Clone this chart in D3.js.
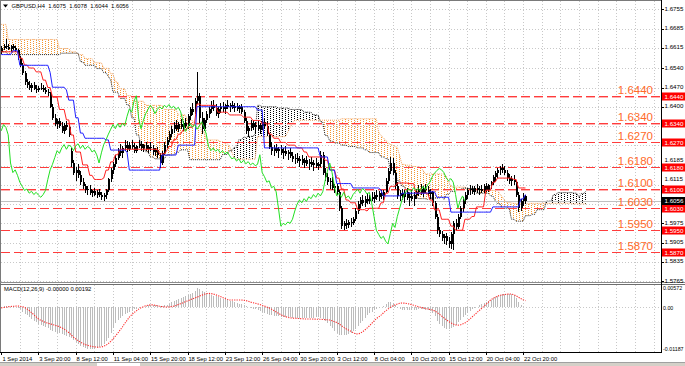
<!DOCTYPE html>
<html lang="en">
<head>
<meta charset="UTF-8">
<title>GBPUSD,H4</title>
<style>
  body { margin: 0; background: #fff; }
  svg { display: block; font-family: "Liberation Sans", Arial, sans-serif; }
</style>
</head>
<body>
<script src="https://d3js.org/d3.v7.min.js"></script>
<script>
// all prices are pips above 1.5000 (1620 -> 1.6620), one row per H4 bar: open, high, low, close
var candles = [
  [1600,1620,1592,1615],[1615,1628,1605,1622],[1622,1645,1612,1618],[1618,1630,1605,1612],[1612,1625,1600,1620],[1620,1628,1608,1614],
  [1614,1622,1598,1605],[1605,1610,1570,1578],[1578,1585,1545,1552],[1552,1560,1515,1522],[1522,1530,1480,1490],[1490,1500,1470,1478],
  [1478,1492,1460,1470],[1470,1485,1455,1480],[1480,1490,1462,1466],[1466,1478,1450,1460],[1460,1475,1452,1470],[1470,1488,1462,1468],
  [1468,1480,1455,1462],[1462,1472,1448,1455],[1455,1465,1440,1450],[1450,1455,1395,1400],[1400,1410,1350,1360],[1360,1372,1330,1338],
  [1338,1355,1320,1348],[1348,1360,1322,1330],[1330,1345,1305,1312],[1312,1340,1302,1335],[1335,1348,1315,1325],[1325,1335,1290,1298],
  [1240,1248,1180,1195],[1195,1205,1150,1160],[1160,1180,1130,1170],[1170,1190,1140,1150],[1150,1165,1115,1125],[1125,1140,1100,1110],
  [1110,1120,1085,1095],[1095,1112,1080,1100],[1100,1115,1078,1085],[1085,1098,1070,1092],[1092,1105,1075,1080],[1080,1095,1068,1088],
  [1088,1100,1072,1078],[1078,1090,1060,1070],[1070,1085,1058,1080],[1080,1100,1062,1095],[1095,1140,1090,1135],[1135,1175,1125,1170],
  [1170,1200,1155,1190],[1190,1225,1180,1215],[1215,1250,1205,1240],[1240,1265,1220,1230],[1230,1258,1215,1250],[1250,1278,1240,1262],
  [1262,1275,1235,1245],[1245,1270,1238,1260],[1260,1280,1245,1255],[1255,1268,1230,1240],[1240,1262,1232,1258],[1258,1278,1248,1265],
  [1265,1275,1240,1248],[1248,1265,1235,1260],[1260,1270,1238,1245],[1245,1262,1232,1255],[1255,1272,1240,1250],[1250,1262,1225,1235],
  [1235,1250,1220,1242],[1242,1255,1215,1225],[1225,1232,1178,1195],[1195,1240,1188,1232],[1232,1270,1225,1262],[1262,1290,1250,1280],
  [1280,1310,1270,1300],[1300,1330,1290,1318],[1318,1345,1305,1335],[1335,1352,1310,1320],[1320,1345,1308,1338],[1338,1355,1318,1325],
  [1325,1348,1312,1340],[1340,1360,1322,1330],[1330,1372,1320,1365],[1365,1400,1350,1392],[1392,1415,1370,1380],[1380,1430,1372,1420],
  [1420,1525,1410,1440],[1440,1450,1340,1358],[1358,1380,1300,1320],[1320,1360,1310,1350],[1350,1385,1340,1375],[1375,1400,1360,1390],
  [1390,1420,1378,1405],[1405,1425,1385,1395],[1395,1410,1365,1375],[1375,1398,1360,1390],[1390,1412,1378,1400],[1400,1418,1382,1392],
  [1392,1410,1375,1405],[1405,1425,1390,1398],[1398,1415,1382,1408],[1408,1420,1390,1395],[1395,1412,1380,1402],[1402,1415,1385,1390],
  [1390,1408,1378,1398],[1398,1410,1375,1382],[1382,1388,1340,1348],[1348,1360,1300,1310],[1310,1330,1290,1322],[1322,1350,1310,1340],
  [1340,1352,1315,1325],[1325,1345,1300,1335],[1335,1350,1310,1318],[1318,1340,1300,1330],[1330,1355,1315,1345],[1345,1360,1320,1328],
  [1328,1345,1295,1300],[1300,1305,1245,1255],[1255,1270,1225,1240],[1240,1262,1220,1250],[1250,1265,1230,1238],[1238,1255,1215,1245],
  [1245,1262,1225,1232],[1232,1250,1210,1240],[1240,1258,1222,1228],[1228,1242,1205,1235],[1235,1250,1215,1222],[1222,1235,1198,1210],
  [1210,1228,1190,1215],[1215,1232,1195,1202],[1202,1220,1180,1210],[1210,1225,1188,1195],[1195,1215,1175,1205],[1205,1220,1185,1192],
  [1192,1210,1170,1200],[1200,1218,1180,1188],[1188,1205,1165,1195],[1195,1215,1178,1185],[1185,1200,1168,1190],[1190,1240,1180,1225],
  [1225,1235,1150,1160],[1160,1175,1130,1145],[1145,1160,1115,1125],[1125,1140,1100,1130],[1130,1145,1095,1105],[1105,1120,1085,1110],
  [1110,1118,1080,1090],[1090,1095,1020,1030],[1030,1040,955,965],[965,985,950,975],[975,990,955,970],[970,988,958,980],
  [980,995,962,975],[975,1000,968,990],[990,1030,985,1020],[1020,1055,1010,1045],[1045,1070,1030,1060],[1060,1080,1040,1050],
  [1050,1075,1035,1065],[1065,1085,1045,1055],[1055,1080,1045,1072],[1072,1090,1058,1065],[1065,1088,1050,1080],[1080,1095,1060,1070],
  [1070,1092,1055,1085],[1085,1098,1062,1075],[1075,1095,1060,1090],[1090,1140,1085,1130],[1130,1175,1120,1165],[1165,1218,1155,1195],
  [1195,1215,1150,1160],[1160,1170,1100,1110],[1110,1125,1065,1075],[1075,1095,1055,1085],[1085,1100,1060,1070],[1070,1095,1050,1088],
  [1088,1105,1060,1068],[1068,1085,1040,1075],[1075,1095,1055,1062],[1062,1088,1038,1080],[1080,1100,1062,1090],[1090,1115,1075,1100],
  [1100,1120,1080,1085],[1085,1110,1070,1102],[1102,1120,1085,1095],[1095,1112,1075,1082],[1082,1100,1065,1088],[1088,1092,1040,1050],
  [1050,1058,990,1000],[1000,1010,935,950],[950,962,925,935],[935,948,910,920],[920,938,900,928],[928,940,895,910],
  [910,925,885,900],[900,945,880,938],[938,985,878,975],[975,990,950,960],[960,1010,955,1000],[1000,1040,990,1030],
  [1030,1070,1015,1060],[1060,1090,1045,1080],[1080,1105,1065,1095],[1095,1115,1080,1100],[1100,1112,1082,1090],[1090,1110,1078,1105],
  [1105,1118,1085,1095],[1095,1112,1080,1102],[1102,1115,1085,1092],[1092,1118,1085,1110],[1110,1122,1090,1098],[1098,1120,1088,1115],
  [1115,1130,1100,1125],[1125,1150,1115,1145],[1145,1165,1130,1158],[1158,1175,1140,1168],[1168,1185,1150,1175],[1175,1190,1158,1170],
  [1170,1185,1150,1160],[1160,1168,1130,1140],[1140,1155,1118,1130],[1130,1148,1110,1138],[1138,1150,1115,1125],[1125,1130,1070,1080],
  [1080,1090,1015,1030],[1030,1065,1020,1058],[1058,1085,1040,1075],[1075,1078,1044,1056]
];

// ichimoku lines as [bar, level] where the level changes (same pip units)
var tenkan = [[0,1600],[8,1577],[10,1552],[12,1541],[15,1527],[18,1497],[20,1470],[22,1435],[25,1390],[28,1352],[30,1297],
  [32,1235],[35,1188],[38,1150],[40,1135],[44,1140],[45,1169],[47,1199],[49,1225],[51,1245],[68,1228],[71,1240],[72,1255],
  [74,1280],[76,1300],[78,1315],[80,1325],[83,1340],[84,1410],[86,1405],[93,1380],[98,1370],[104,1362],[108,1350],[112,1340],
  [115,1300],[117,1285],[120,1270],[123,1260],[127,1250],[130,1235],[132,1217],[139,1205],[141,1170],[144,1140],[146,1100],
  [148,1060],[150,1050],[153,1025],[157,1020],[158,1030],[163,1050],[165,1085],[167,1110],[170,1122],[175,1120],[178,1085],
  [184,1060],[186,1024],[189,990],[193,965],[195,950],[199,990],[202,1000],[204,1035],[208,1096],[211,1125],[213,1140],
  [220,1135],[222,1104]];
var kijun = [[0,1590],[5,1604],[8,1551],[21,1525],[22,1471],[28,1461],[29,1424],[32,1360],[34,1304],[36,1285],[45,1279],
  [47,1242],[54,1235],[55,1169],[69,1224],[76,1260],[84,1400],[110,1388],[113,1250],[137,1217],[141,1169],[144,1120],
  [151,1104],[163,1096],[164,1075],[172,1085],[184,1090],[187,1070],[193,1016],[211,1035],[223,1064],[225,1080]];
var spanA = [[0,1600],[3,1590],[26,1595],[34,1564],[36,1551],[41,1539],[44,1524],[46,1510],[47,1497],[48,1453],[51,1430],
  [54,1406],[56,1360],[58,1297],[60,1257],[62,1236],[64,1217],[66,1210],[71,1224],[75,1233],[77,1243],[81,1207],[95,1226],
  [98,1240],[100,1252],[102,1280],[104,1288],[106,1292],[109,1300],[110,1405],[112,1400],[119,1395],[124,1390],[130,1380],
  [134,1370],[137,1345],[139,1295],[141,1275],[143,1268],[146,1260],[149,1255],[153,1250],[156,1243],[158,1233],[163,1217],
  [165,1211],[167,1170],[170,1130],[172,1110],[174,1090],[176,1077],[179,1065],[183,1062],[184,1067],[189,1073],[190,1062],
  [191,1080],[193,1092],[196,1098],[198,1103],[201,1102],[204,1085],[210,1075],[212,1057],[213,1047],[215,1030],[219,990],
  [221,983],[225,1003],[228,1008],[230,1025],[234,1056],[237,1080],[239,1087],[246,1085],[248,1070],[249,1084],[251,1092]];
var spanB = [[0,1700],[3,1645],[25,1612],[30,1600],[33,1590],[36,1575],[40,1560],[44,1540],[47,1520],[49,1490],[51,1465],
  [54,1440],[57,1420],[62,1405],[70,1390],[76,1370],[80,1350],[83,1340],[86,1309],[88,1279],[94,1273],[96,1265],[98,1256],
  [99,1234],[100,1215],[101,1209],[110,1291],[123,1307],[124,1325],[125,1340],[126,1351],[146,1356],[162,1307],[163,1295],
  [164,1287],[165,1277],[166,1270],[167,1262],[168,1260],[169,1255],[170,1252],[171,1222],[172,1190],[174,1187],[177,1182],
  [179,1180],[181,1169],[182,1155],[191,1147],[192,1127],[193,1110],[194,1107],[200,1096],[201,1100],[205,1095],[214,1082],
  [215,1072],[216,1059],[217,1051],[219,1049],[220,1048],[245,1046]];
var cloudEnd = 251;

// MACD(12,26,9), units of 0.00001
var macdMain = [
  20,30,35,40,35,25,10,-10,
  -60,-120,-180,-230,-280,-330,-380,-430,-480,
  -510,-540,-570,-600,-640,-680,-700,-720,-740,
  -760,-790,-810,-840,-880,-930,
  -985,-1040,-1090,-1130,
  -1160,-1180,-1190,-1185,-1180,-1170,
  -1140,-1110,-1040,-960,
  -860,-720,-580,-450,
  -370,-300,-240,-190,-150,
  -120,-90,-60,-40,-20,
  0,20,40,60,70,
  80,70,60,50,40,60,80,
  110,140,170,200,230,260,290,310,
  340,380,420,470,550,
  520,470,430,400,380,
  350,330,310,290,270,250,230,210,190,170,
  150,130,110,90,60,30,10,-10,-40,
  -60,-80,-100,-120,-150,-180,-210,
  -230,-240,-250,-260,-265,-270,-275,-280,-285,-290,-290,-295,-295,-300,-300,-300,-295,-290,-290,-280,-280,-290,-330,-380,-440,-520,
  -600,-680,-740,-780,-790,-790,-780,-760,-720,-680,-620,
  -540,-460,-380,-300,-230,-170,-120,-80,
  -50,-20,0,30,
  100,150,160,120,60,
  -10,-50,-70,-80,-80,-75,-70,-70,-65,-60,-60,-60,-70,-80,-100,-160,-260,-380,
  -470,-540,-590,-620,-630,-600,-550,-490,-420,-350,
  -280,-210,-150,-100,-60,-20,20,
  60,90,120,150,180,220,260,300,330,
  360,380,390,390,380,370,350,
  260,150,70,20,0
];
var macdSignal = [
  -15,-5,5,15,25,30,35,40,35,
  20,0,-40,-90,-150,-210,-270,-330,
  -370,-400,-430,-450,-470,-490,-510,-530,-550,
  -580,-620,-670,-720,-780,-850,
  -900,-950,-990,-1030,-1060,-1080,-1100,
  -1115,-1125,-1133,-1137,-1130,-1110,-1080,
  -1030,-970,-900,-820,-740,-650,
  -560,-460,-370,-280,-210,-150,
  -100,-50,-10,20,45,60,
  70,70,60,45,30,20,15,10,12,
  20,35,55,80,105,130,160,185,210,
  240,265,290,320,345,370,390,400,
  395,380,360,335,310,280,255,230,210,
  210,210,210,210,210,205,195,175,150,130,
  120,100,80,55,35,10,-15,
  -50,-90,-130,-170,-210,-240,-265,-285,-300,
  -305,-310,-315,-320,-325,-330,-330,-330,-330,-335,-335,-340,-340,-345,-350,-355,-360,
  -380,-410,-430,-470,-520,-570,-610,-645,-680,-720,-750,-760,
  -740,-700,-650,-590,-530,-460,-390,-320,-275,
  -220,-160,-100,-50,0,40,70,95,
  115,125,120,110,95,80,60,40,20,
  0,-15,-30,-45,-60,-75,-100,-140,-190,-245,-300,
  -350,-400,-440,-475,-500,-510,-500,-475,-445,
  -400,-340,-280,-220,-160,-100,-40,20,80,140,210,
  250,290,320,340,355,365,375,380,380,
  360,330,290,250,220,192
];

var levels = [1.6440, 1.6340, 1.6270, 1.6180, 1.6100, 1.6030, 1.5950, 1.5870];
var doubledLevels = [1.6440, 1.6340, 1.6100];
// price grid lines; false = hidden under a red level tag, "up" = squeezed just above a tag
var priceTicks = ["1.6755","1.6685","1.6615","1.6540","1.6470","1.6400","1.6330","1.6260","1.6185","1.6115","1.6045","1.5975","1.5905","1.5835","1.5765"];
var priceTickShown = [true,true,true,true,true,true,false,false,"up","up",false,true,true,true,true];
var lastPrice = 1.6056;
var macdTicks = ["0.00572", "0.00", "-0.01187"];
var timeLabels = ["1 Sep 2014","3 Sep 20:00","8 Sep 12:00","11 Sep 04:00","15 Sep 20:00","18 Sep 12:00","23 Sep 12:00",
  "26 Sep 04:00","30 Sep 20:00","3 Oct 12:00","8 Oct 04:00","10 Oct 20:00","15 Oct 12:00","20 Oct 04:00","22 Oct 20:00"];
var header = "GBPUSD,H4  1.6075  1.6078  1.6044  1.6056";
var macdHeader = "MACD(12,26,9) -0.00000 0.00192";

var width = 685, height = 366;
var axisX = 661;          // right edge of the plotting area
var barsPerLabel = 16, barsPerGrid = 8;

var svg = d3.select('body').append('svg').attr('width', width).attr('height', height);

var x = d3.scaleLinear().domain([0, 283]).range([1.2, 660.6]);
var y = d3.scaleLinear().domain([1.5765, 1.6755]).range([281, 9.3]);
var ym = d3.scaleLinear().domain([-0.01187, 0.00572]).range([349, 287.3]);
function pr(v) { return 1.5 + v / 10000; }
function stepAt(pts, i) {
  var v = pts[0][1];
  for (var k = 0; k < pts.length; k++) { if (pts[k][0] <= i) v = pts[k][1]; else break; }
  return v;
}

var defs = svg.append('defs');
defs.append('clipPath').attr('id', 'mainClip').append('rect')
  .attr('x', 1).attr('y', 1).attr('width', axisX - 1).attr('height', 281);
defs.append('clipPath').attr('id', 'macdClip').append('rect')
  .attr('x', 1).attr('y', 285).attr('width', axisX - 1).attr('height', 67);
// kumo hatching: staggered single-pixel dots
function dotPattern(id, color) {
  var p = defs.append('pattern').attr('id', id).attr('width', 6).attr('height', 2)
    .attr('patternUnits', 'userSpaceOnUse');
  p.append('rect').attr('x', 0).attr('y', 0).attr('width', 1).attr('height', 1).attr('fill', color);
  p.append('rect').attr('x', 3).attr('y', 1).attr('width', 1).attr('height', 1).attr('fill', color);
}
dotPattern('dotOrange', '#f5962e');
dotPattern('dotBlack', '#000');

// grid
var gridBars = d3.range(barsPerGrid, 284, barsPerGrid);
var grid = svg.append('g').attr('stroke', '#c8c8c8').attr('stroke-dasharray', '1,2').attr('shape-rendering', 'crispEdges');
grid.selectAll('.vg').data(gridBars).join('line')
  .attr('x1', function(d) { return Math.round(x(d)); }).attr('x2', function(d) { return Math.round(x(d)); })
  .attr('y1', 1).attr('y2', 282);
grid.selectAll('.vgm').data(gridBars).join('line')
  .attr('x1', function(d) { return Math.round(x(d)); }).attr('x2', function(d) { return Math.round(x(d)); })
  .attr('y1', 285).attr('y2', 352);
grid.selectAll('.hg').data(priceTicks).join('line')
  .attr('x1', 1).attr('x2', axisX)
  .attr('y1', function(d) { return Math.round(y(+d)); }).attr('y2', function(d) { return Math.round(y(+d)); });
grid.append('line').attr('x1', 1).attr('x2', axisX).attr('y1', Math.round(ym(0))).attr('y2', Math.round(ym(0)));

var main = svg.append('g').attr('clip-path', 'url(#mainClip)');

// kumo
var cloud = d3.range(0, cloudEnd + 1).map(function(i) {
  return { i: i, a: stepAt(spanA, i), b: stepAt(spanB, i) };
});
main.append('path').datum(cloud).attr('fill', 'url(#dotOrange)')
  .attr('d', d3.area().x(function(d) { return x(d.i); })
    .y0(function(d) { return y(pr(d.a)); })
    .y1(function(d) { return y(pr(Math.max(d.a, d.b))); }));
main.append('path').datum(cloud).attr('fill', 'url(#dotBlack)')
  .attr('d', d3.area().x(function(d) { return x(d.i); })
    .y0(function(d) { return y(pr(d.b)); })
    .y1(function(d) { return y(pr(Math.max(d.a, d.b))); }));
main.append('path').datum(cloud).attr('fill', 'none').attr('stroke', '#f4a460').attr('stroke-dasharray', '1,1')
  .attr('d', d3.line().x(function(d) { return x(d.i); }).y(function(d) { return y(pr(d.b)); }));
main.append('path').datum(cloud).attr('fill', 'none').attr('stroke', '#222').attr('stroke-dasharray', '1,1')
  .attr('d', d3.line().x(function(d) { return x(d.i); }).y(function(d) { return y(pr(d.a)); }));

// horizontal levels
main.selectAll('.lvl2').data(doubledLevels).join('line')
  .attr('x1', 1).attr('x2', axisX)
  .attr('y1', function(d) { return Math.round(y(d)) + 1.5; }).attr('y2', function(d) { return Math.round(y(d)) + 1.5; })
  .attr('stroke', '#ffb0b0').attr('stroke-dasharray', '9,4');
main.selectAll('.lvl').data(levels).join('line')
  .attr('x1', 1).attr('x2', axisX)
  .attr('y1', function(d) { return Math.round(y(d)) + 0.5; }).attr('y2', function(d) { return Math.round(y(d)) + 0.5; })
  .attr('stroke', '#ff3c3c').attr('stroke-dasharray', '9,4');
main.append('line').attr('x1', 1).attr('x2', axisX)
  .attr('y1', Math.round(y(lastPrice)) + 0.5).attr('y2', Math.round(y(lastPrice)) + 0.5)
  .attr('stroke', '#c0c0c0');

// candles
var cg = main.append('g').attr('shape-rendering', 'crispEdges');
cg.selectAll('.wick').data(candles).join('line')
  .attr('x1', function(d, i) { return Math.round(x(i)) + 0.5; })
  .attr('x2', function(d, i) { return Math.round(x(i)) + 0.5; })
  .attr('y1', function(d) { return y(pr(d[1])); })
  .attr('y2', function(d) { return y(pr(d[2])); })
  .attr('stroke', '#000');
cg.selectAll('.body').data(candles).join('rect')
  .attr('x', function(d, i) { return Math.round(x(i)); })
  .attr('width', 2)
  .attr('y', function(d) { return y(pr(Math.max(d[0], d[3]))); })
  .attr('height', function(d) { return Math.max(1, Math.abs(y(pr(d[0])) - y(pr(d[3])))); })
  .attr('fill', '#000');

// tenkan, kijun, chikou
var bars = d3.range(0, candles.length);
var priceLine = d3.line().x(function(d) { return x(d[0]); }).y(function(d) { return y(pr(d[1])); });
main.append('path').datum(bars.map(function(i) { return [i, stepAt(tenkan, i)]; }))
  .attr('fill', 'none').attr('stroke', '#ff2020').attr('d', priceLine);
main.append('path').datum(bars.map(function(i) { return [i, stepAt(kijun, i)]; }))
  .attr('fill', 'none').attr('stroke', '#2020ff').attr('d', priceLine);
main.append('path').datum(bars.filter(function(i) { return i >= 26; }).map(function(i) { return [i - 26, candles[i][3]]; }))
  .attr('fill', 'none').attr('stroke', '#22e022').attr('d', priceLine);

// level captions
main.selectAll('.cap').data(levels).join('text')
  .attr('x', 653).attr('y', function(d) { return Math.round(y(d)) - 2.5; })
  .attr('text-anchor', 'end').attr('font-size', 11.5).attr('fill', '#ff6a2a')
  .text(function(d) { return d.toFixed(4); });

// MACD
var mg = svg.append('g').attr('clip-path', 'url(#macdClip)');
mg.selectAll('.hist').data(macdMain).join('line')
  .attr('shape-rendering', 'crispEdges')
  .attr('x1', function(d, i) { return Math.round(x(i)) + 0.5; })
  .attr('x2', function(d, i) { return Math.round(x(i)) + 0.5; })
  .attr('y1', ym(0)).attr('y2', function(d) { return ym(d / 1e5); })
  .attr('stroke', '#bcbcbc');
mg.append('path').datum(macdSignal).attr('fill', 'none').attr('stroke', '#ff2a2a')
  .attr('stroke-width', 1.1).attr('stroke-dasharray', '1.2,1.2')
  .attr('d', d3.line().x(function(d, i) { return x(i); }).y(function(d) { return ym(d / 1e5); }));

// frame
var frame = svg.append('g').attr('shape-rendering', 'crispEdges').attr('fill', 'none');
frame.append('line').attr('x1', 0.5).attr('x2', 0.5).attr('y1', 0).attr('y2', 353).attr('stroke', '#7a7a7a');
frame.append('line').attr('x1', 0).attr('x2', axisX).attr('y1', 0.5).attr('y2', 0.5).attr('stroke', '#7a7a7a');
frame.append('line').attr('x1', 0).attr('x2', width).attr('y1', 282.5).attr('y2', 282.5).attr('stroke', '#8c8c8c');
frame.append('line').attr('x1', 0).attr('x2', width).attr('y1', 284.5).attr('y2', 284.5).attr('stroke', '#6e6e6e');
frame.append('line').attr('x1', 0).attr('x2', axisX + 1).attr('y1', 352.5).attr('y2', 352.5).attr('stroke', '#000');
frame.append('line').attr('x1', axisX + 0.5).attr('x2', axisX + 0.5).attr('y1', 0).attr('y2', 353).attr('stroke', '#000');
svg.append('rect').attr('x', 0).attr('y', 363).attr('width', width).attr('height', 3).attr('fill', '#d4d0c8');
svg.append('line').attr('x1', 0).attr('x2', width).attr('y1', 362.5).attr('y2', 362.5).attr('stroke', '#a0a0a0');
svg.append('rect').attr('x', 97).attr('y', 363).attr('width', 43).attr('height', 3).attr('fill', '#fff');

// price axis
var ax = svg.append('g').attr('font-size', 6.2).attr('fill', '#000');
ax.selectAll('.pt').data(priceTicks).join('line')
  .attr('x1', axisX).attr('x2', axisX + 3)
  .attr('y1', function(d) { return Math.round(y(+d)) + 0.5; }).attr('y2', function(d) { return Math.round(y(+d)) + 0.5; })
  .attr('stroke', '#000');
var shownTicks = priceTicks.map(function(d, k) { return { t: d, mode: priceTickShown[k] }; })
  .filter(function(d) { return d.mode; });
ax.selectAll('.pl').data(shownTicks).join('text')
  .attr('x', axisX + 3.5)
  .attr('y', function(d) { return d.mode === 'up' ? Math.round(y(+d.t)) - 3.8 : y(+d.t) + 1.6; })
  .text(function(d) { return d.t; });
var tags = ax.selectAll('.tag').data(levels).join('g')
  .attr('transform', function(d) { return 'translate(' + (axisX + 1) + ',' + Math.round(y(d)) + ')'; });
tags.append('rect').attr('x', 0).attr('y', -3.5).attr('width', 23).attr('height', 8).attr('fill', '#ff0000');
tags.append('text').attr('x', 2.5).attr('y', 2.8).attr('fill', '#fff').text(function(d) { return d.toFixed(4); });
var bid = ax.append('g').attr('transform', 'translate(' + (axisX + 1) + ',' + Math.round(y(lastPrice)) + ')');
bid.append('rect').attr('x', 0).attr('y', -4).attr('width', 23).attr('height', 8).attr('fill', '#000');
bid.append('text').attr('x', 2.5).attr('y', 2.3).attr('fill', '#fff').text(lastPrice.toFixed(4));

// MACD axis
ax.selectAll('.ml').data(macdTicks).join('text')
  .attr('x', axisX + 2).attr('y', function(d) { return ym(+d) + 2.2; })
  .attr('font-size', 5.3)
  .text(function(d) { return d; });

// time axis
var tg = svg.append('g').attr('font-size', 5.8).attr('fill', '#000');
tg.selectAll('.tt').data(timeLabels).join('line')
  .attr('x1', function(d, k) { return Math.round(x(k * barsPerLabel)) + 0.5; })
  .attr('x2', function(d, k) { return Math.round(x(k * barsPerLabel)) + 0.5; })
  .attr('y1', 352).attr('y2', 355).attr('stroke', '#000');
tg.selectAll('.tl').data(timeLabels).join('text')
  .attr('x', function(d, k) { return k === 0 ? 2.5 : x(k * barsPerLabel) + 0.8; })
  .attr('y', 360.5)
  .text(function(d) { return d; });

// captions
svg.append('path').attr('d', 'M3,4.5 L8,4.5 L5.5,7.5 Z').attr('fill', '#000');
svg.append('text').attr('x', 11.5).attr('y', 8.2).attr('font-size', 5.8).attr('fill', '#000')
  .attr('xml:space', 'preserve').style('white-space', 'pre').text(header);
svg.append('text').attr('x', 4).attr('y', 291).attr('font-size', 5.8).attr('fill', '#000').text(macdHeader);
</script>
</body>
</html>
